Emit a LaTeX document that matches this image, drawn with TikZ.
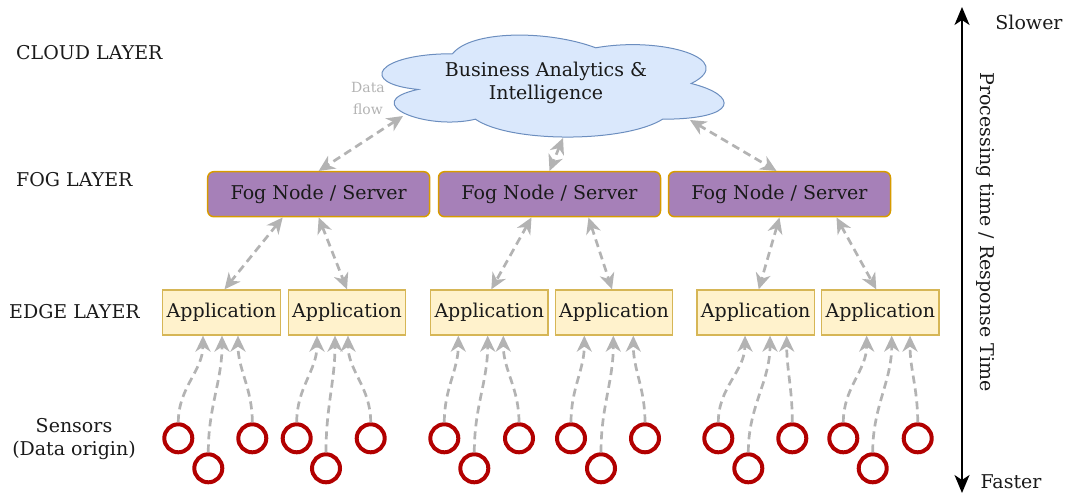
\documentclass[tikz,border=0pt]{standalone}
\usepackage{fontspec}
\setmainfont{DejaVu Serif}
\usetikzlibrary{arrows.meta}

\definecolor{txt}{HTML}{1A1A1A}
\definecolor{flow}{HTML}{B3B3B3}
\definecolor{fogfill}{HTML}{A680B8}
\definecolor{fogline}{HTML}{D79B00}
\definecolor{appfill}{HTML}{FFF2CC}
\definecolor{appline}{HTML}{D6B656}
\definecolor{cloudfill}{HTML}{DAE8FC}
\definecolor{cloudline}{HTML}{6C8EBF}
\definecolor{sensorred}{HTML}{B20000}

\begin{document}
\begin{tikzpicture}[x=1pt,y=-1pt,
  font=\fontsize{19}{23}\selectfont, text=txt,
  fognode/.style={draw=fogline, fill=fogfill, line width=1.5pt, rounded corners=6pt,
    minimum width=222pt, minimum height=45pt, inner sep=0pt},
  appnode/.style={draw=appline, fill=appfill, line width=1.3pt,
    minimum width=117.5pt, minimum height=45pt, inner sep=0pt},
  sensornode/.style={circle, draw=sensorred, line width=4pt, minimum size=28pt, inner sep=0pt},
  flowline/.style={draw=flow, line width=2.7pt, dash pattern=on 8pt off 5pt},
  oneway/.style={flowline, -{Stealth[length=16pt,width=15pt,inset=5pt]}},
  twoway/.style={flowline, {Stealth[length=16pt,width=15pt,inset=5pt]}-{Stealth[length=16pt,width=15pt,inset=5pt]}},
  axisline/.style={line width=2pt, draw=black, {Stealth[length=18pt,width=15pt,inset=5pt]}-{Stealth[length=18pt,width=15pt,inset=5pt]}},
  layerlabel/.style={anchor=west, inner sep=0pt},
]
\useasboundingbox (0,0) rectangle (1065,495);

% layer captions
\node[layerlabel] (cloudlbl) at (16,53) {CLOUD LAYER};
\node[layerlabel] (foglbl) at (16,180) {FOG LAYER};
\node[layerlabel] (edgelbl) at (9,312) {EDGE LAYER};
\node[align=center, inner sep=0pt] (senslbl) at (74,439) {Sensors\\(Data origin)};

% cloud
\begin{scope}[shift={(357,24)}, x=382pt, y=-119pt]
  \draw[fill=cloudfill, draw=cloudline, line width=1pt]
    (0.25,0.25) .. controls (0.05,0.25) and (0,0.5) .. (0.16,0.55)
    .. controls (0,0.66) and (0.18,0.9) .. (0.31,0.8)
    .. controls (0.4,1) and (0.7,1) .. (0.8,0.8)
    .. controls (1,0.8) and (1,0.6) .. (0.875,0.5)
    .. controls (1,0.3) and (0.8,0.1) .. (0.625,0.2)
    .. controls (0.5,0.05) and (0.3,0.05) .. (0.25,0.25) -- cycle;
\end{scope}
\node[align=center, inner sep=0pt] (cloud) at (546,83) {Business Analytics \&\\Intelligence};
\coordinate (cl1) at (403,116);
\coordinate (cl2) at (563,138);
\coordinate (cl3) at (690,120);
\node[align=center, text=flow, font=\fontsize{14}{22}\selectfont, inner sep=0pt] (dataflow) at (368,98) {Data\\flow};

% fog layer
\node[fognode] (fog1) at (318.7,194.2) {Fog Node / Server};
\node[fognode] (fog2) at (549.5,194.2) {Fog Node / Server};
\node[fognode] (fog3) at (779.5,194.2) {Fog Node / Server};

% edge layer
\node[appnode] (app1) at (221.5,312.5) {Application};
\node[appnode] (app2) at (347,312.5) {Application};
\node[appnode] (app3) at (489.3,312.5) {Application};
\node[appnode] (app4) at (614,312.5) {Application};
\node[appnode] (app5) at (755.7,312.5) {Application};
\node[appnode] (app6) at (880.3,312.5) {Application};

% cloud <-> fog
\draw[twoway] (cl1) -- (fog1.north);
\draw[twoway] (cl2) -- (fog2.north);
\draw[twoway] (cl3) -- ([xshift=-3pt]fog3.north);

% fog <-> edge
\draw[twoway] ([xshift=-36pt]fog1.south) -- ([xshift=3pt]app1.north);
\draw[twoway] (fog1.south) -- (app2.north);
\draw[twoway] ([xshift=-18pt]fog2.south) -- ([xshift=2pt]app3.north);
\draw[twoway] ([xshift=39pt]fog2.south) -- ([xshift=-2pt]app4.north);
\draw[twoway] (fog3.south) -- ([xshift=3pt]app5.north);
\draw[twoway] ([xshift=57pt]fog3.south) -- ([xshift=-4pt]app6.north);

% sensors and their links to the applications
\foreach \g/\xa/\xb/\xc/\da/\db/\dc in {
    1/178.3/208.3/252.3/-18.5/0.5/16.5,
    2/296.7/326/370.7/-30/-12/1,
    3/444.3/474.3/519/-31/-1.6/14,
    4/571/601/645/-29.7/-0.7/19.3,
    5/718.3/748.3/792.3/-10.7/14.3/31,
    6/843.3/872.7/917.7/-13.6/11.4/29.7} {
  \node[sensornode] (s\g a) at (\xa,438.3) {};
  \node[sensornode] (s\g b) at (\xb,468.3) {};
  \node[sensornode] (s\g c) at (\xc,438.3) {};
  \draw[oneway] (s\g a.north) to[out=90,in=-90] ([xshift=\da pt]app\g.south);
  \draw[oneway] (s\g b.north) to[out=90,in=-90] ([xshift=\db pt]app\g.south);
  \draw[oneway] (s\g c.north) to[out=90,in=-90] ([xshift=\dc pt]app\g.south);
}

% processing time axis
\coordinate (axtop) at (962,7);
\coordinate (axbot) at (962,493);
\draw[axisline] (axtop) -- (axbot);
\node[rotate=-90, inner sep=0pt] (axlbl) at (985,232) {Processing time / Response Time};
\node[inner sep=0pt] (slower) at (1029,22) {Slower};
\node[inner sep=0pt] (faster) at (1011,482) {Faster};
\end{tikzpicture}
\end{document}
